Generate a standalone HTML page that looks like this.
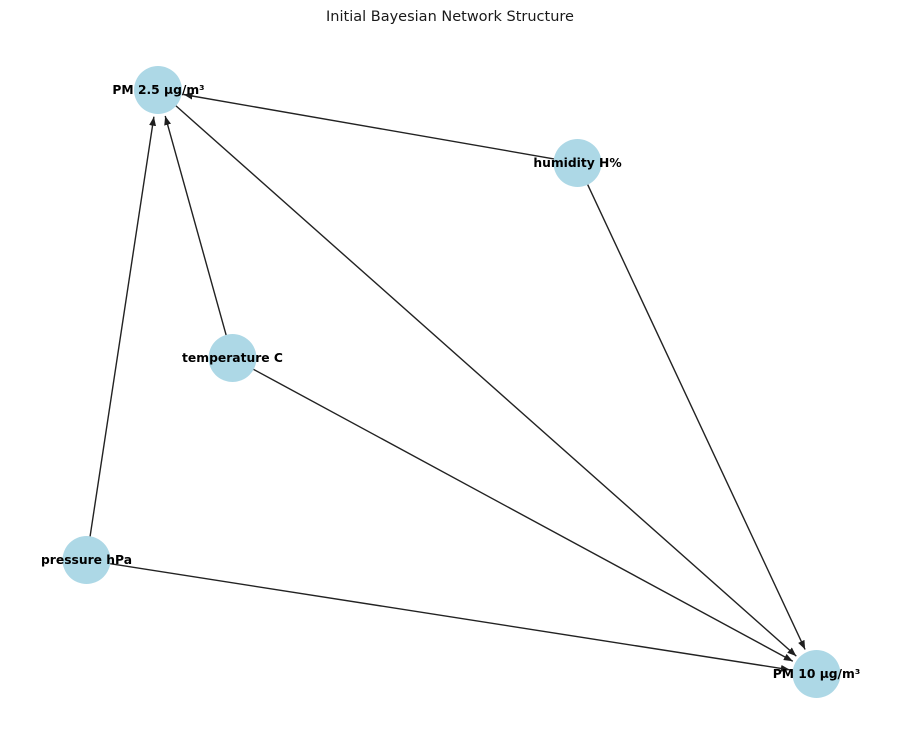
<!DOCTYPE html>
<html>
<head>
<meta charset="utf-8">
<style>
  html, body { margin: 0; padding: 0; background: #ffffff; }
  svg { display: block; }
  text { font-family: "DejaVu Sans", "Liberation Sans", sans-serif; }
</style>
</head>
<body>
<svg width="900" height="744" viewBox="0 0 900 744" xmlns="http://www.w3.org/2000/svg">
  <defs>
    <marker id="ah" markerUnits="userSpaceOnUse" markerWidth="10" markerHeight="8" refX="9" refY="3.5" orient="auto">
      <path d="M0,0 L9,3.5 L0,7 z" fill="#1e1e1e"/>
    </marker>
  </defs>
  <rect width="900" height="744" fill="#ffffff"/>

  <text x="450" y="21" font-size="14.5" text-anchor="middle" fill="#1a1a1a">Initial Bayesian Network Structure</text>

  <!-- nodes -->
  <g fill="#add8e6">
    <circle cx="158" cy="90" r="24"/>
    <circle cx="577.5" cy="163" r="24"/>
    <circle cx="232.5" cy="358" r="24"/>
    <circle cx="86.5" cy="560" r="24"/>
    <circle cx="816.5" cy="674" r="24"/>
  </g>

  <!-- edges -->
  <g stroke="#222" stroke-width="1.4" fill="none" marker-end="url(#ah)">
    <line x1="553.9" y1="158.9" x2="183.6" y2="94.5"/>
    <line x1="226.1" y1="334.9" x2="165.2" y2="116.0"/>
    <line x1="90.1" y1="536.3" x2="153.9" y2="116.7"/>
    <line x1="176.0" y1="105.9" x2="796.3" y2="656.1"/>
    <line x1="587.7" y1="184.7" x2="805.1" y2="649.5"/>
    <line x1="253.6" y1="369.4" x2="792.8" y2="661.2"/>
    <line x1="110.2" y1="563.7" x2="789.8" y2="669.8"/>
  </g>

  <!-- labels -->
  <g font-size="12.3" font-weight="bold" fill="#000" text-anchor="middle">
    <text x="158.5" y="94">PM 2.5 μg/m³</text>
    <text x="577.5" y="167">humidity H%</text>
    <text x="232.5" y="362">temperature C</text>
    <text x="86.5" y="564">pressure hPa</text>
    <text x="816.5" y="678">PM 10 μg/m³</text>
  </g>
</svg>
</body>
</html>
